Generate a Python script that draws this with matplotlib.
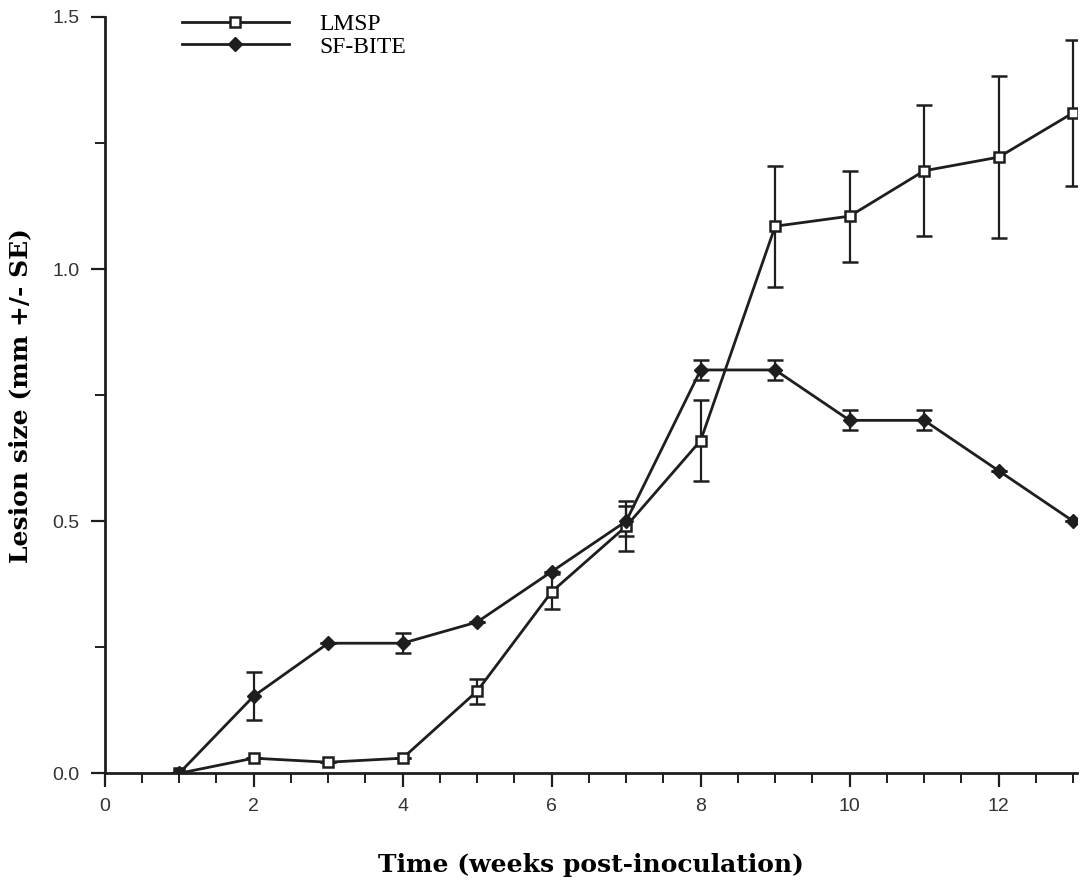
import matplotlib.pyplot as plt
from matplotlib.ticker import MultipleLocator

weeks = [1, 2, 3, 4, 5, 6, 7, 8, 9, 10, 11, 12, 13]
lmsp = [0.0, 0.03, 0.022, 0.03, 0.163, 0.36, 0.49, 0.66, 1.085, 1.105, 1.195, 1.222, 1.31]
lmsp_se = [0.0, 0.0, 0.0, 0.0, 0.025, 0.035, 0.05, 0.08, 0.12, 0.09, 0.13, 0.16, 0.145]
sfbite = [0.0, 0.153, 0.258, 0.258, 0.30, 0.40, 0.50, 0.80, 0.80, 0.70, 0.70, 0.60, 0.50]
sfbite_se = [0.0, 0.048, 0.0, 0.02, 0.0, 0.0, 0.03, 0.02, 0.02, 0.02, 0.02, 0.0, 0.0]

fig = plt.figure(figsize=(10.9, 8.94), dpi=100)
ax = fig.add_axes([0.096, 0.135, 0.892, 0.846])

ink = "#1e1e1e"
c1 = ax.errorbar(weeks, lmsp, yerr=lmsp_se, color=ink, lw=2, marker="s", ms=7,
                 mfc="white", mec=ink, mew=1.8, capsize=6, capthick=1.8, elinewidth=1.6,
                 zorder=3)
c2 = ax.errorbar(weeks, sfbite, yerr=sfbite_se, color=ink, lw=2, marker="D", ms=7,
                 mfc=ink, mec=ink, capsize=6, capthick=1.8, elinewidth=1.6,
                 zorder=3)

ax.set_xlim(0, 13.05)
ax.set_ylim(0, 1.5)
ax.xaxis.set_major_locator(MultipleLocator(2))
ax.xaxis.set_minor_locator(MultipleLocator(0.5))
ax.yaxis.set_major_locator(MultipleLocator(0.5))
ax.yaxis.set_minor_locator(MultipleLocator(0.25))
ax.yaxis.set_major_formatter(lambda v, p: f"{v:.1f}")

for s in ["top", "right"]:
    ax.spines[s].set_visible(False)
for s in ["left", "bottom"]:
    ax.spines[s].set_linewidth(2)
    ax.spines[s].set_color(ink)

ax.tick_params(which="major", direction="out", length=10, width=1.6, colors=ink,
               labelsize=14, pad=8)
ax.tick_params(which="minor", direction="out", length=7, width=1.4, colors=ink)
for t in ax.get_xticklabels() + ax.get_yticklabels():
    t.set_fontfamily("Liberation Sans")
    t.set_color("#333333")

ax.set_xlabel("Time (weeks post-inoculation)", fontsize=18, fontweight="bold",
              family="DejaVu Serif")
ax.set_ylabel("Lesion size (mm +/- SE)", fontsize=18, fontweight="bold",
              family="DejaVu Serif")
ax.xaxis.set_label_coords(0.5, -0.105)
ax.yaxis.set_label_coords(-0.074, 0.5)

ax.legend([c1.lines[0], c2.lines[0]], ["LMSP", "SF-BITE"],
          loc="upper left", bbox_to_anchor=(0.058, 1.033), frameon=False,
          handlelength=4.5, handletextpad=1.3, labelspacing=0.05,
          prop={"family": "Liberation Serif", "size": 17})

fig.savefig("out.png", dpi=100)
